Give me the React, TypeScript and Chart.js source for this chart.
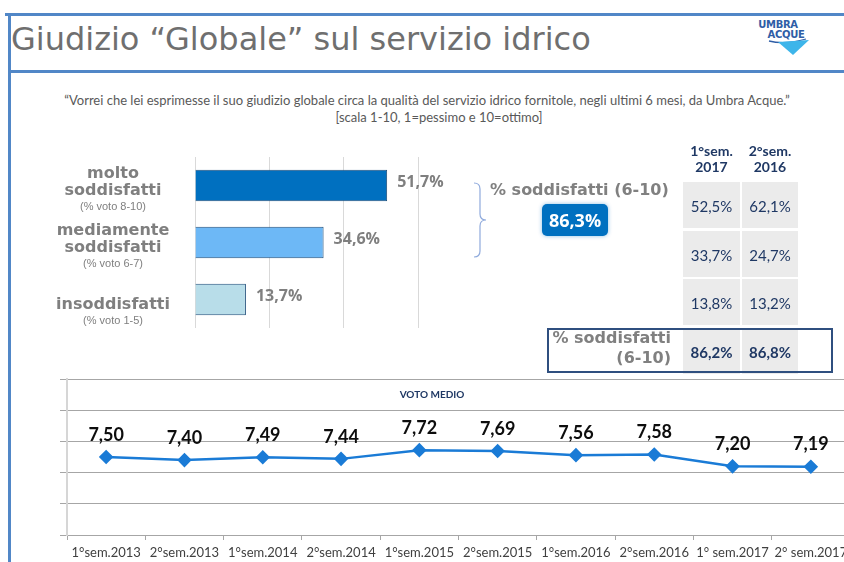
import React, { useEffect, useRef } from "react";
import { Chart, registerables } from "chart.js";

Chart.register(...registerables);
Chart.defaults.font.family = "Lato";

// ---------- DATA ----------
const barCategories = [["molto", "soddisfatti"], ["mediamente", "soddisfatti"], ["insoddisfatti"]];
const barNotes = ["(% voto 8-10)", "(% voto 6-7)", "(% voto 1-5)"];
const barValues = [51.7, 34.6, 13.7];
const barColors = ["#0070C0", "#6DB8F6", "#B8DDE9"];
const barAxisMax = 60;
const barAxisStep = 20;
const satisfiedTotal = 86.3;

const tableHeaders = [["1°sem.", "2017"], ["2°sem.", "2016"]];
const table1sem2017 = [52.5, 33.7, 13.8, 86.2];
const table2sem2016 = [62.1, 24.7, 13.2, 86.8];

const semesters = [
  "1°sem.2013", "2°sem.2013", "1°sem.2014", "2°sem.2014", "1°sem.2015",
  "2°sem.2015", "1°sem.2016", "2°sem.2016", "1° sem.2017", "2° sem.2017",
];
const votoMedio = [7.5, 7.4, 7.49, 7.44, 7.72, 7.69, 7.56, 7.58, 7.2, 7.19];
const lineAxisMin = 5;
const lineAxisMax = 10;
const lineAxisStep = 1;

const fmtPct = (v: number) => v.toFixed(1).replace(".", ",") + "%";
const fmtVoto = (v: number) => v.toFixed(2).replace(".", ",");

// ---------- BAR CHART ----------
function BarChart() {
  const ref = useRef<HTMLCanvasElement | null>(null);
  useEffect(() => {
    const labelPlugin = {
      id: "barLabels",
      afterDatasetsDraw(chart: any) {
        const ctx = chart.ctx;
        const meta = chart.getDatasetMeta(0);
        ctx.save();
        meta.data.forEach((bar: any, i: number) => {
          ctx.fillStyle = "#7f7f7f";
          ctx.font = "bold 16px 'Open Sans'";
          ctx.textAlign = "left";
          ctx.textBaseline = "middle";
          ctx.fillText(fmtPct(barValues[i]), bar.x + 10, bar.y - 3);

          const lines = barCategories[i];
          ctx.textAlign = "center";
          ctx.font = "bold 16px 'DejaVu Sans'";
          lines.forEach((ln, j) => {
            const y = bar.y + 5 - (lines.length - 1 - j) * 17;
            ctx.fillText(ln, 113, y);
          });
          ctx.font = "11px 'Liberation Sans'";
          ctx.fillText(barNotes[i], 113, bar.y + 21);
        });
        ctx.restore();
      },
    };
    const chart = new Chart(ref.current!, {
      type: "bar",
      data: {
        labels: barCategories.map((c) => c.join(" ")),
        datasets: [
          {
            data: barValues,
            backgroundColor: barColors,
            borderColor: "#1F4E79",
            borderWidth: 1,
            categoryPercentage: 1,
            barPercentage: 0.55,
          },
        ],
      },
      options: {
        indexAxis: "y",
        animation: false,
        responsive: false,
        layout: { padding: { left: 195, right: 62, top: 7, bottom: 12 } },
        plugins: { legend: { display: false }, tooltip: { enabled: false } },
        scales: {
          x: {
            min: 0,
            max: barAxisMax,
            ticks: { display: false, stepSize: barAxisStep },
            grid: { color: "#d9d9d9", drawTicks: false },
            border: { display: false },
          },
          y: { display: false },
        },
      },
      plugins: [labelPlugin],
    } as any);
    return () => chart.destroy();
  }, []);
  return (
    <canvas
      ref={ref}
      width={480}
      height={190}
      style={{ position: "absolute", left: 0, top: 150, width: 480, height: 190 }}
    />
  );
}

// ---------- LINE CHART ----------
function LineChart() {
  const ref = useRef<HTMLCanvasElement | null>(null);
  useEffect(() => {
    const labelPlugin = {
      id: "lineLabels",
      afterDatasetsDraw(chart: any) {
        const ctx = chart.ctx;
        const meta = chart.getDatasetMeta(0);
        ctx.save();
        ctx.fillStyle = "#0d0d0d";
        ctx.font = "bold 18px Lato";
        ctx.textAlign = "center";
        ctx.textBaseline = "middle";
        meta.data.forEach((p: any, i: number) => {
          ctx.fillText(fmtVoto(votoMedio[i]), p.x, p.y - 22);
        });
        ctx.restore();
      },
    };
    const chart = new Chart(ref.current!, {
      type: "line",
      data: {
        labels: semesters,
        datasets: [
          {
            data: votoMedio,
            borderColor: "#1A7BD6",
            backgroundColor: "#1A7BD6",
            borderWidth: 2.5,
            pointStyle: "rectRot",
            pointRadius: 5.5,
            pointBackgroundColor: "#1A7BD6",
            pointBorderColor: "#1A7BD6",
            tension: 0,
          },
        ],
      },
      options: {
        animation: false,
        responsive: false,
        layout: { padding: { top: 9, right: 10, left: 0, bottom: 0 } },
        plugins: { legend: { display: false }, tooltip: { enabled: false } },
        scales: {
          x: {
            offset: true,
            grid: {
              drawOnChartArea: false,
              drawTicks: true,
              tickLength: 5,
              color: "#a6a6a6",
              offset: true,
            },
            border: { color: "#a6a6a6" },
            ticks: {
              font: { family: "Lato", size: 13 },
              color: "#404040",
              padding: 5,
              maxRotation: 0,
              autoSkip: false,
            },
            afterFit: (s: any) => {
              s.height = 27;
            },
          },
          y: {
            min: lineAxisMin,
            max: lineAxisMax,
            ticks: { display: false, stepSize: lineAxisStep },
            grid: { color: "#a6a6a6", tickLength: 7, drawTicks: true },
            border: { color: "#d6d6d6", width: 2 },
            afterFit: (s: any) => {
              s.width = 67;
            },
          },
        },
      },
      plugins: [labelPlugin],
    } as any);
    return () => chart.destroy();
  }, []);
  return (
    <canvas
      ref={ref}
      width={860}
      height={192}
      style={{ position: "absolute", left: 0, top: 370, width: 860, height: 192 }}
    />
  );
}

// ---------- PAGE ----------
const abs = (s: React.CSSProperties): React.CSSProperties => ({ position: "absolute", ...s });
const frameColor = "#5187C7";
const navy = "#1F3864";

export default function App() {
  const cols = [table1sem2017, table2sem2016];
  const colX = [683, 742];
  const colW = [57, 56];
  return (
    <div
      style={{
        position: "fixed",
        left: 0,
        top: 0,
        width: 844,
        height: 562,
        overflow: "hidden",
        background: "#fff",
      }}
    >
      {/* frame */}
      <div style={abs({ left: 5, top: 13, width: 839, height: 3, background: frameColor })} />
      <div style={abs({ left: 8, top: 13, width: 3, height: 549, background: frameColor })} />
      <div style={abs({ left: 8, top: 70, width: 836, height: 3, background: frameColor })} />

      {/* title */}
      <div
        style={abs({
          left: 11,
          top: 19,
          lineHeight: "40px",
          fontFamily: "'DejaVu Sans'",
          fontSize: 32,
          color: "#6f6f6f",
          whiteSpace: "nowrap",
        })}
      >
        Giudizio “Globale” sul servizio idrico
      </div>

      {/* logo */}
      <div
        style={abs({
          left: 752,
          top: 20,
          width: 52,
          textAlign: "center",
          fontFamily: "'DejaVu Sans'",
          fontWeight: "bold",
          fontSize: 10,
          lineHeight: "10px",
          color: "#2F5DA6",
          letterSpacing: -0.3,
        })}
      >
        UMBRA
      </div>
      <div
        style={abs({
          left: 762,
          top: 30,
          width: 48,
          textAlign: "center",
          fontFamily: "'DejaVu Sans'",
          fontWeight: "bold",
          fontSize: 10,
          lineHeight: "10px",
          color: "#2F5DA6",
          letterSpacing: -0.3,
        })}
      >
        ACQUE
      </div>
      <svg style={abs({ left: 760, top: 36, width: 56, height: 24 })} width={56} height={24}>
        <path d="M9 5 Q25 9 46 3" stroke="#2F5DA6" strokeWidth={1.3} fill="none" />
        <path d="M18 6 L49 4 L33 19 Z" fill="#3DB5EA" />
      </svg>

      {/* subtitle */}
      <div
        style={abs({
          left: 0,
          width: 854,
          top: 92,
          textAlign: "center",
          lineHeight: "17px",
          fontFamily: "Lato",
          fontSize: 13,
          color: "#595959",
          whiteSpace: "nowrap",
        })}
      >
        “Vorrei che lei esprimesse il suo giudizio globale circa la qualità del servizio idrico fornitole, negli ultimi 6 mesi, da Umbra Acque.”
      </div>
      <div
        style={abs({
          left: 0,
          width: 878,
          top: 109,
          textAlign: "center",
          lineHeight: "17px",
          fontFamily: "Lato",
          fontSize: 13,
          color: "#595959",
          whiteSpace: "nowrap",
        })}
      >
        [scala 1-10, 1=pessimo e 10=ottimo]
      </div>

      <BarChart />

      {/* bracket + total */}
      <svg style={abs({ left: 0, top: 0, width: 844, height: 562 })} width={844} height={562}>
        <path
          d="M474 183 Q480 183 480 189 L480 214 Q480 220 486 220 Q480 220 480 226 L480 251 Q480 257 474 257"
          stroke="#8FAADC"
          strokeWidth={1.2}
          fill="none"
        />
      </svg>
      <div
        style={abs({
          left: 490,
          top: 180,
          lineHeight: "20px",
          fontFamily: "'DejaVu Sans'",
          fontWeight: "bold",
          fontSize: 16,
          color: "#808080",
          whiteSpace: "nowrap",
        })}
      >
        % soddisfatti (6-10)
      </div>
      <div
        style={abs({
          left: 542,
          top: 204,
          width: 66,
          height: 32,
          borderRadius: 5,
          background: "#0070C0",
          boxShadow: "0 0 4px rgba(0,112,192,0.45)",
          color: "#fff",
          fontFamily: "'Open Sans'",
          fontWeight: "bold",
          fontSize: 18,
          lineHeight: "32px",
          textAlign: "center",
        })}
      >
        {fmtPct(satisfiedTotal)}
      </div>

      {/* table */}
      {tableHeaders.map((h, c) => (
        <div
          key={"h" + c}
          style={abs({
            left: colX[c],
            width: colW[c],
            top: 143,
            textAlign: "center",
            fontFamily: "Lato",
            fontWeight: "bold",
            fontSize: 14,
            lineHeight: "16px",
            color: navy,
          })}
        >
          {h[0]}
          <br />
          {h[1]}
        </div>
      ))}
      {cols.map((col, c) =>
        col.map((v, r) => (
          <div
            key={c + "-" + r}
            style={abs({
              left: colX[c],
              width: colW[c],
              top: 182 + r * 48.5,
              height: 46,
              background: "#ebebeb",
              textAlign: "center",
              lineHeight: "48px",
              fontFamily: "Lato",
              fontSize: 15,
              fontWeight: r === col.length - 1 ? "bold" : "normal",
              color: navy,
            })}
          >
            {fmtPct(v)}
          </div>
        ))
      )}
      <div
        style={abs({
          left: 547,
          top: 328,
          width: 286,
          height: 45,
          border: "2px solid #2F4F7F",
          boxSizing: "border-box",
        })}
      />
      <div
        style={abs({
          left: 530,
          width: 141,
          top: 328,
          textAlign: "right",
          lineHeight: "20px",
          fontFamily: "'DejaVu Sans'",
          fontWeight: "bold",
          fontSize: 16,
          color: "#808080",
        })}
      >
        % soddisfatti
        <br />
        (6-10)
      </div>

      <LineChart />
      <div
        style={abs({
          left: 382,
          width: 100,
          top: 388,
          textAlign: "center",
          fontFamily: "Lato",
          fontWeight: "bold",
          fontSize: 10,
          lineHeight: "12px",
          color: navy,
        })}
      >
        VOTO MEDIO
      </div>
    </div>
  );
}
